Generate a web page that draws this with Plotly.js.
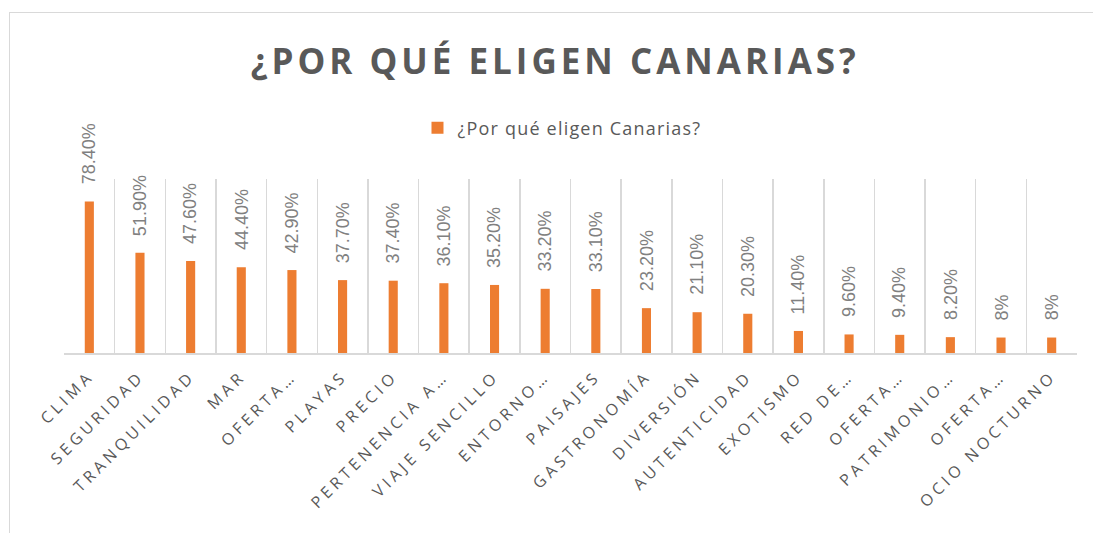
<!DOCTYPE html>
<html>
<head>
<meta charset="utf-8">
<script src="https://cdn.plot.ly/plotly-3.0.1.min.js"></script>
<style>
  html, body { margin: 0; padding: 0; background: #fff; }
  #wrap { position: relative; width: 1093px; height: 533px; overflow: hidden; }
  #frame { position: absolute; left: 9px; top: 12px; width: 1200px; height: 600px;
           border-left: 1.5px solid #d9d9d9; border-top: 1.5px solid #d9d9d9; pointer-events: none; }
  #chart { position: absolute; left: 0; top: 0; width: 1093px; height: 533px; }
  .gtitle { letter-spacing: 4px; }
  .xtick text { letter-spacing: 4px; }
  .legendtext { letter-spacing: 1.2px; }
</style>
</head>
<body>
<div id="wrap">
  <div id="chart"></div>
  <div id="frame"></div>
</div>
<script>
const categories = ["CLIMA", "SEGURIDAD", "TRANQUILIDAD", "MAR", "OFERTA…", "PLAYAS", "PRECIO",
  "PERTENENCIA A…", "VIAJE SENCILLO", "ENTORNO…", "PAISAJES", "GASTRONOMÍA", "DIVERSIÓN",
  "AUTENTICIDAD", "EXOTISMO", "RED DE…", "OFERTA…", "PATRIMONIO…", "OFERTA…", "OCIO NOCTURNO"];
const values = [78.4, 51.9, 47.6, 44.4, 42.9, 37.7, 37.4, 36.1, 35.2, 33.2, 33.1, 23.2, 21.1,
  20.3, 11.4, 9.6, 9.4, 8.2, 8, 8];
const valueLabels = ["78.40%", "51.90%", "47.60%", "44.40%", "42.90%", "37.70%", "37.40%", "36.10%",
  "35.20%", "33.20%", "33.10%", "23.20%", "21.10%", "20.30%", "11.40%", "9.60%", "9.40%", "8.20%", "8%", "8%"];
const seriesName = "¿Por qué eligen Canarias?";
const chartTitle = "¿POR QUÉ ELIGEN CANARIAS?";

const idx = categories.map((c, i) => i);
const boundaries = categories.map((c, i) => i - 0.5).concat([categories.length - 0.5]);

const trace = {
  type: 'bar',
  x: idx,
  y: values,
  name: seriesName,
  marker: { color: '#ED7D31' },
  width: 0.18,
  hoverinfo: 'x+y',
  showlegend: true
};

const annotations = values.map((v, i) => ({
  x: i, y: v, xref: 'x', yref: 'y',
  text: valueLabels[i],
  textangle: -90,
  showarrow: false,
  xanchor: 'center', yanchor: 'bottom',
  yshift: 15,
  font: { family: 'Liberation Sans, Arial, sans-serif', size: 18, color: '#808080' }
}));

const layout = {
  width: 1093, height: 533,
  margin: { l: 64, r: 16, t: 179, b: 180 },
  paper_bgcolor: 'rgba(0,0,0,0)',
  plot_bgcolor: 'rgba(0,0,0,0)',
  title: {
    text: chartTitle,
    font: { family: 'Open Sans, sans-serif', size: 35, color: '#595959', weight: 700 },
    xref: 'container', yref: 'container', x: 0.508, y: 0.884, xanchor: 'center', yanchor: 'middle'
  },
  legend: {
    orientation: 'h', x: 0.4916, xanchor: 'center', y: 1.293, yanchor: 'middle',
    font: { family: 'Open Sans, sans-serif', size: 18, color: '#595959' },
    itemclick: false
  },
  xaxis: {
    range: [-0.5, categories.length - 0.5],
    tickmode: 'array', tickvals: idx, ticktext: categories,
    tickangle: -45,
    ticks: '', ticklabelstandoff: 6,
    tickfont: { family: 'Open Sans, sans-serif', size: 16, color: '#595959' },
    showgrid: false,
    showline: true, linecolor: '#d9d9d9', linewidth: 1.5,
    zeroline: false,
    minor: { tickmode: 'array', tickvals: boundaries, showgrid: true, gridcolor: '#d9d9d9', gridwidth: 1.5, ticks: '' },
    fixedrange: true
  },
  yaxis: {
    range: [0, 90], visible: false, showgrid: false, zeroline: false, fixedrange: true
  },
  annotations: annotations,
  bargap: 0.82
};

Plotly.newPlot('chart', [trace], layout, { displayModeBar: false, staticPlot: true });
</script>
</body>
</html>
